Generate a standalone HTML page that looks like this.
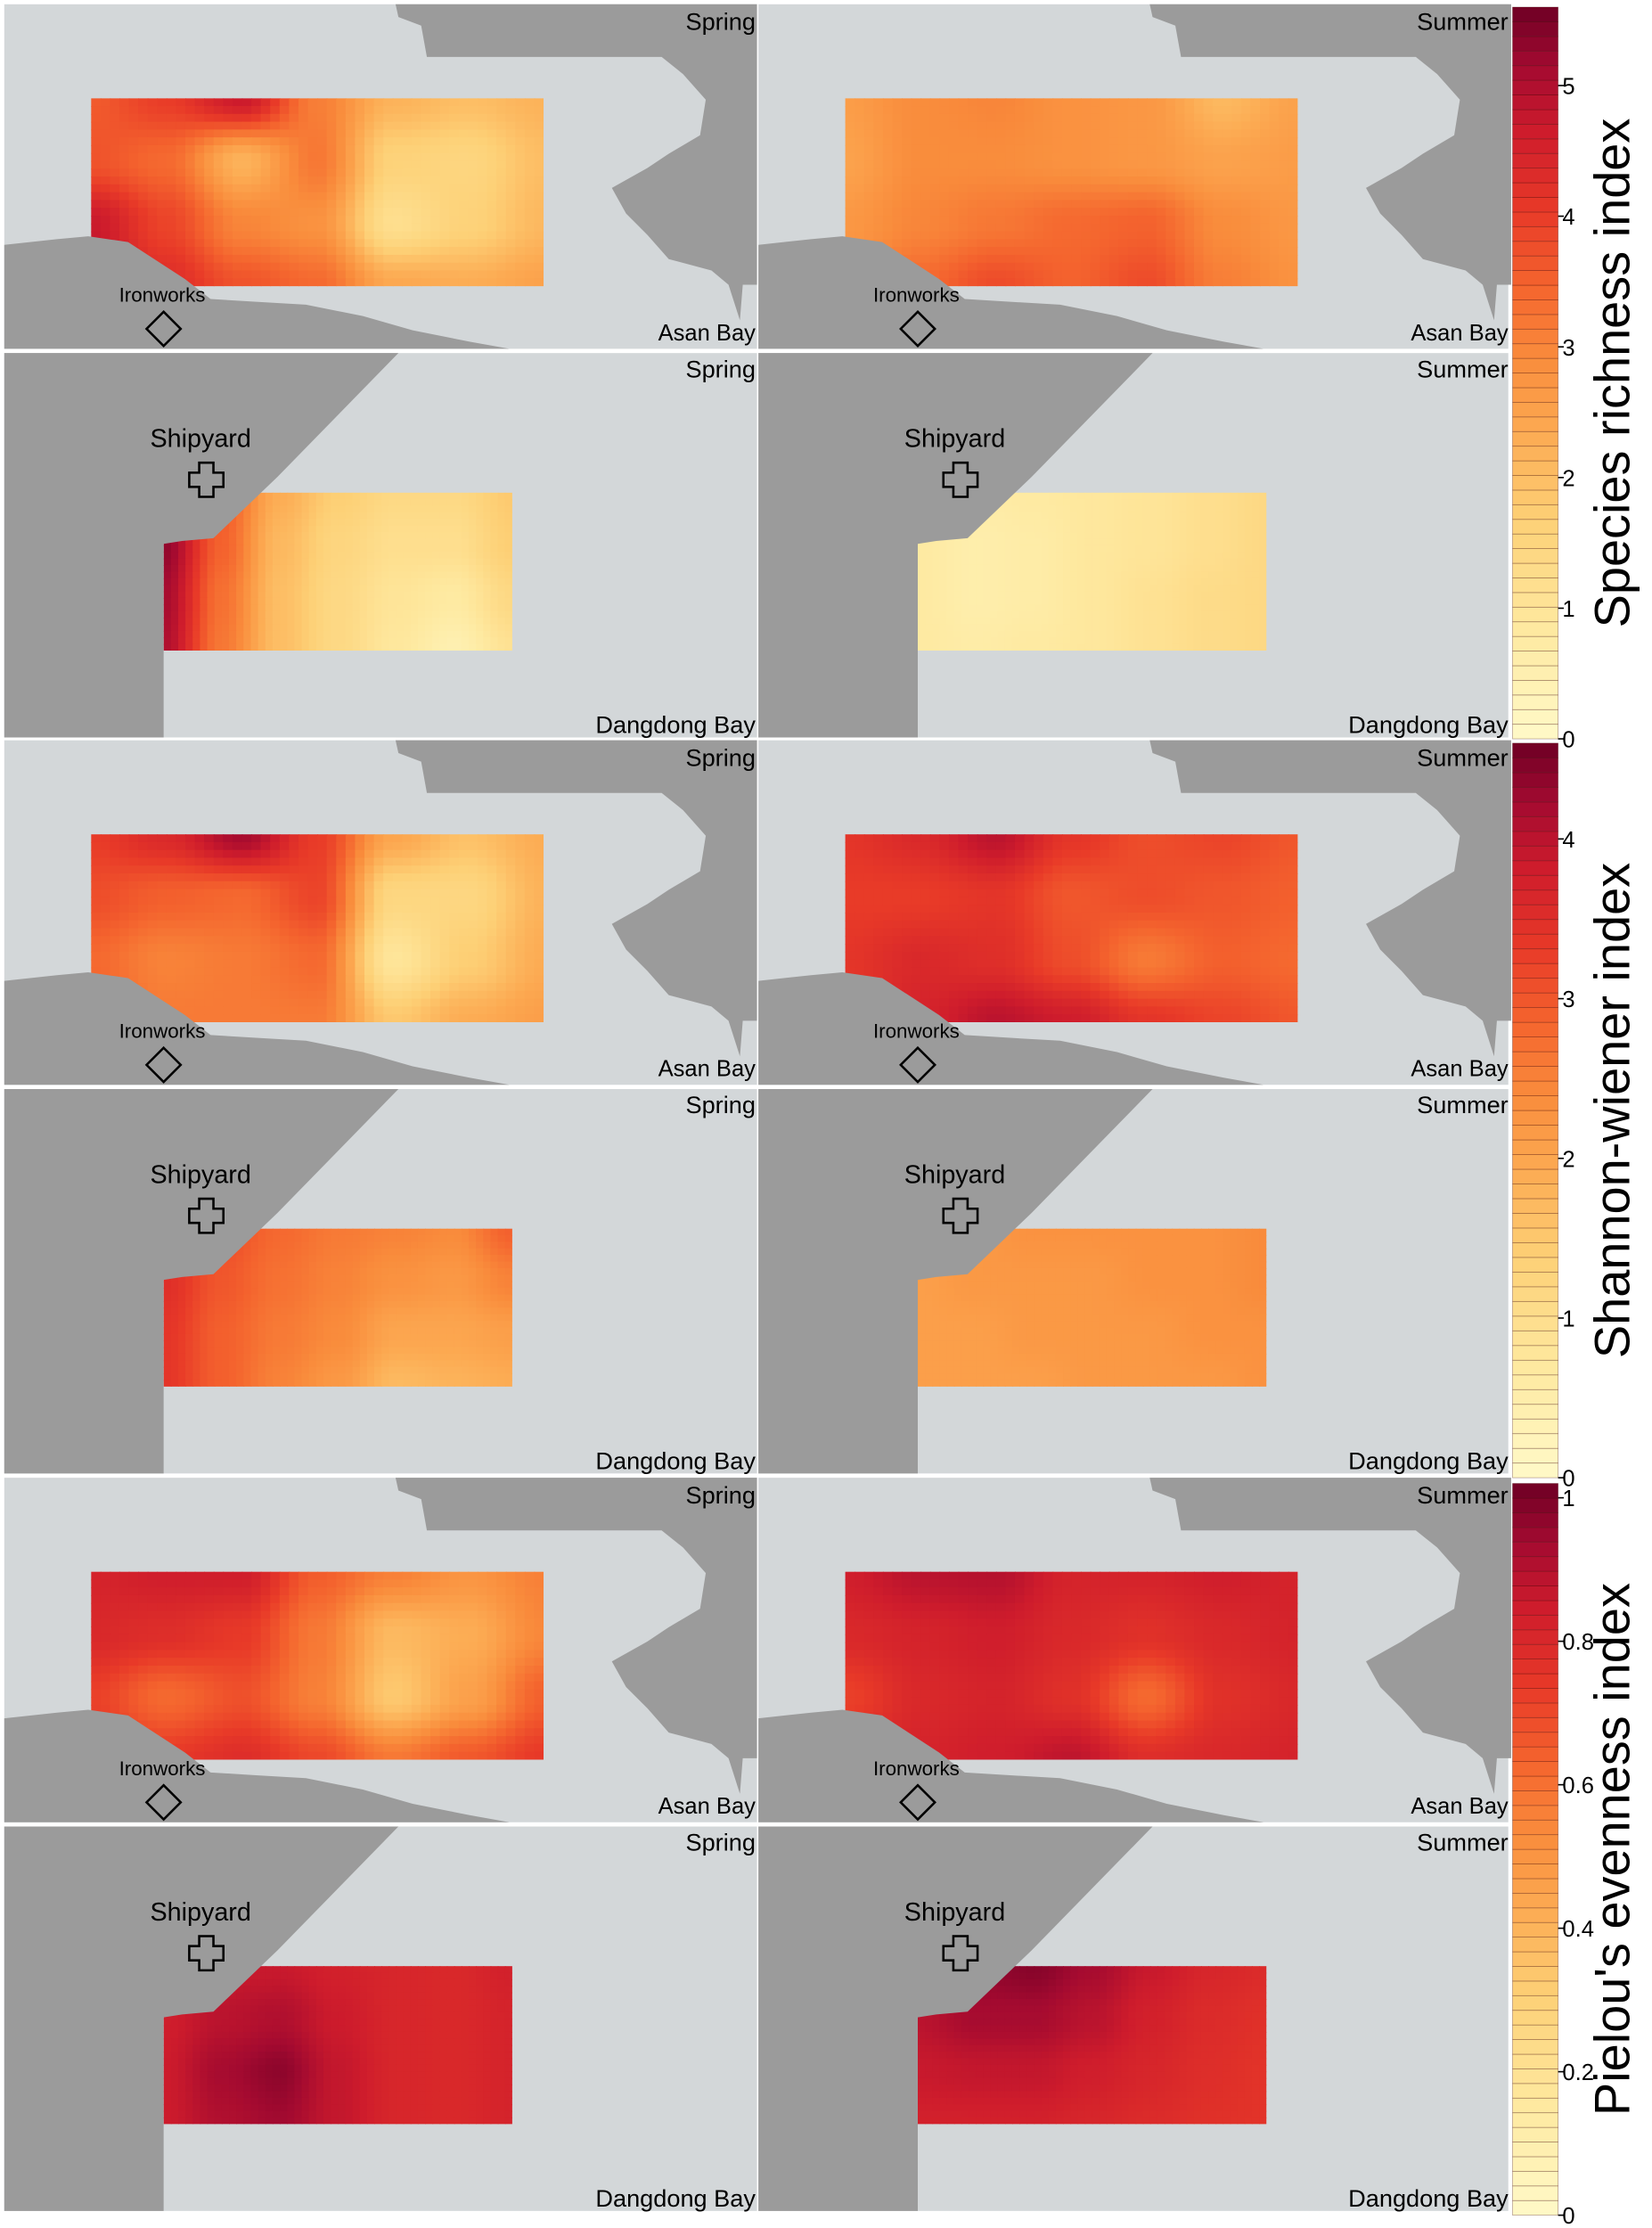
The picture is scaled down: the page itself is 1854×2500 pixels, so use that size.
<!DOCTYPE html>
<html><head><meta charset="utf-8"><style>
html,body{margin:0;padding:0;background:#fff;}
svg{display:block;font-family:"Liberation Sans",Arial,sans-serif;}
</style></head><body>
<svg id="fig" xmlns="http://www.w3.org/2000/svg" width="1854" height="2500" viewBox="0 0 1161 1565" preserveAspectRatio="none"></svg>
<script>
// ---- data: 7x4 grids of index values per panel (rows top->bottom) ----
const richAsanSpring=[[3.6,4.0,4.7,3.1,2.2,2.0,2.2],[3.7,3.4,2.2,3.2,1.6,1.5,2.0],[4.7,3.9,3.0,2.8,1.2,1.6,2.1],[5.0,4.3,3.7,3.4,2.4,2.3,2.5]];
const richAsanSummer=[[2.6,2.9,3.0,2.8,2.7,2.1,2.5],[2.5,2.9,2.9,2.8,2.7,2.5,2.6],[2.7,3.0,3.2,3.4,3.5,2.9,2.7],[2.9,3.4,3.8,3.5,3.8,3.1,2.8]];
const richDangSpring=[[5.3,3.6,2.3,1.7,1.4,1.4,1.8],[5.3,3.5,2.1,1.5,1.2,1.2,1.7],[5.1,3.3,2.0,1.4,1.0,0.8,1.4],[5.0,3.2,2.0,1.4,0.9,0.5,1.1]];
const richDangSummer=[[0.8,0.7,0.8,0.9,1.0,1.2,1.4],[0.8,0.6,0.7,0.9,1.0,1.2,1.4],[0.8,0.6,0.7,0.9,1.1,1.3,1.4],[0.8,0.7,0.8,0.9,1.1,1.3,1.4]];
const shanAsanSpring=[[3.3,3.6,4.2,3.3,2.0,1.6,1.9],[3.1,2.9,2.8,3.2,1.2,1.2,1.8],[2.8,2.5,2.6,2.8,0.8,1.4,1.9],[2.9,2.6,2.6,2.6,1.5,1.9,2.1]];
const shanAsanSummer=[[3.4,3.6,4.0,3.4,3.1,3.2,3.0],[3.3,3.3,3.4,3.0,3.1,3.0,2.9],[3.4,3.6,3.5,3.1,2.6,2.9,2.8],[3.3,3.7,4.0,3.8,3.4,3.2,3.0]];
const shanDangSpring=[[3.5,3.1,2.8,2.6,2.5,2.4,2.9],[3.5,3.0,2.7,2.5,2.3,2.2,2.5],[3.4,2.9,2.6,2.4,2.0,2.0,2.1],[3.4,2.9,2.5,2.2,1.7,1.8,1.9]];
const shanDangSummer=[[2.1,2.2,2.3,2.3,2.3,2.3,2.4],[2.1,2.2,2.2,2.2,2.3,2.3,2.4],[2.1,2.1,2.2,2.2,2.2,2.3,2.3],[2.1,2.1,2.1,2.2,2.2,2.2,2.3]];
const pielAsanSpring=[[0.82,0.84,0.84,0.65,0.56,0.50,0.56],[0.80,0.78,0.74,0.58,0.38,0.42,0.54],[0.72,0.62,0.68,0.56,0.33,0.46,0.64],[0.76,0.74,0.78,0.70,0.58,0.66,0.74]];
const pielAsanSummer=[[0.84,0.89,0.90,0.82,0.82,0.84,0.82],[0.80,0.82,0.84,0.80,0.77,0.80,0.82],[0.72,0.80,0.82,0.77,0.62,0.77,0.80],[0.80,0.82,0.84,0.88,0.78,0.80,0.82]];
const pielDangSpring=[[0.84,0.86,0.86,0.83,0.81,0.80,0.83],[0.84,0.89,0.91,0.85,0.81,0.80,0.82],[0.85,0.93,0.97,0.87,0.81,0.80,0.82],[0.85,0.91,0.94,0.87,0.81,0.80,0.82]];
const pielDangSummer=[[0.92,0.96,0.98,0.93,0.86,0.81,0.79],[0.89,0.93,0.93,0.89,0.83,0.79,0.77],[0.86,0.87,0.87,0.84,0.81,0.78,0.76],[0.83,0.83,0.83,0.81,0.79,0.77,0.76]];
const indexTitles=["Species richness index","Shannon-wiener index","Pielou's evenness index"];
const indexMax=[5.6,4.6,1.02];
const richTicks=[0,1,2,3,4,5];
const shanTicks=[0,1,2,3,4];
const pielTicks=[0,0.2,0.4,0.6,0.8,1];

const NS="http://www.w3.org/2000/svg";
const svg=document.getElementById('fig');
function mk(tag,attrs,parent){const e=document.createElementNS(NS,tag);for(const k in attrs)e.setAttribute(k,attrs[k]);(parent||svg).appendChild(e);return e;}
const stops=[[0,[255,249,200]],[0.15,[254,233,160]],[0.3,[253,208,118]],[0.42,[252,170,82]],[0.52,[249,140,60]],[0.62,[244,100,46]],[0.72,[232,58,40]],[0.83,[206,28,44]],[0.92,[163,10,48]],[1,[110,0,37]]];
function color(t){t=Math.max(0,Math.min(1,t));for(let i=1;i<stops.length;i++){if(t<=stops[i][0]){const a=stops[i-1],b=stops[i];const f=(t-a[0])/(b[0]-a[0]);const c=a[1].map((v,j)=>Math.round(v+(b[1][j]-v)*f));return `rgb(${c})`;}}return 'rgb(110,0,37)';}

const groupY=[0,517,1035];
const colX=[0,530];
const grids=[[richAsanSpring,richAsanSummer,richDangSpring,richDangSummer],[shanAsanSpring,shanAsanSummer,shanDangSpring,shanDangSummer],[pielAsanSpring,pielAsanSummer,pielDangSpring,pielDangSummer]];
const tickSets=[richTicks,shanTicks,pielTicks];
const asanRect={x:64,y:69,w:318,h:132};
const dangRect={x:115,y:346,w:245,h:111};
let clipId=0;
function heat(g,grid,r,vmax,ox,oy){
  const id='c'+(clipId++);
  const cp=mk('clipPath',{id},g);mk('rect',{x:r.x+ox,y:r.y+oy,width:r.w,height:r.h},cp);
  const hg=mk('g',{'clip-path':`url(#${id})`},g);
  const nc=grid[0].length,nr=grid.length,sub=8;
  const W=(nc-1)*sub,H=(nr-1)*sub;
  for(let j=0;j<H;j++)for(let i=0;i<W;i++){
    const u=(i+0.5)/sub,v=(j+0.5)/sub;
    const i0=Math.min(nc-2,Math.floor(u)),j0=Math.min(nr-2,Math.floor(v));
    let fu=u-i0,fv=v-j0;fu=fu*fu*(3-2*fu);fv=fv*fv*(3-2*fv);
    const val=grid[j0][i0]*(1-fu)*(1-fv)+grid[j0][i0+1]*fu*(1-fv)+grid[j0+1][i0]*(1-fu)*fv+grid[j0+1][i0+1]*fu*fv;
    const c=mk('rect',{x:(r.x+ox+i*r.w/W).toFixed(2),y:(r.y+oy+j*r.h/H).toFixed(2),width:(r.w/W+0.6).toFixed(2),height:(r.h/H+0.6).toFixed(2),fill:color(val/vmax)},hg);
    
    
  }
}
function pts(arr,ox,oy){return arr.map(p=>(p[0]+ox)+','+(p[1]+oy)).join(' ');}
const asanLandR=[[278,3],[532,3],[532,200],[522,200],[520,225],[512,200],[500,190],[470,182],[455,165],[440,150],[430,132],[455,118],[470,108],[492,95],[496,70],[480,52],[465,40],[300,40],[296,18],[280,12]];
const asanLandL=[[3,172],[40,168],[62,166],[90,170],[130,196],[148,210],[180,212],[215,214],[255,222],[290,232],[330,240],[358,245],[3,245]];
const dangLand=[[3,248],[280,248],[195,335],[150,378],[128,380],[115,382],[115,518],[3,518]];
const seasons=['Spring','Summer'];
for(let gi=0;gi<3;gi++){
  const oy=groupY[gi];
  const G=mk('g',{});
  for(let ci=0;ci<2;ci++){
    const ox=colX[ci];
    const ex=ci==0?531:1060;
    const pa=mk('g',{},G);
    mk('rect',{x:3+ox,y:3+oy,width:ci==0?529:527,height:242,fill:'#d3d7d9'},pa);
    heat(pa,grids[gi][ci],asanRect,indexMax[gi],ox,oy);
    mk('polygon',{points:pts(asanLandR,ox,oy),fill:'#9b9b9b'},pa);
    mk('polygon',{points:pts(asanLandL,ox,oy),fill:'#9b9b9b'},pa);
    mk('text',{x:ex,y:21+oy,'text-anchor':'end','font-size':17},pa).textContent=seasons[ci];
    mk('text',{x:ex,y:239+oy,'text-anchor':'end','font-size':16},pa).textContent='Asan Bay';
    mk('text',{x:114+ox,y:212+oy,'text-anchor':'middle','font-size':14},pa).textContent='Ironworks';
    const dm=mk('polygon',{points:pts([[115,219],[127,231],[115,243],[103,231]],ox,oy),fill:'none',stroke:'#000','stroke-width':1.6},pa);
    
    const pd=mk('g',{},G);
    mk('rect',{x:3+ox,y:248+oy,width:ci==0?529:527,height:270,fill:'#d3d7d9'},pd);
    heat(pd,grids[gi][ci+2],dangRect,indexMax[gi],ox,oy);
    mk('polygon',{points:pts(dangLand,ox,oy),fill:'#9b9b9b'},pd);
    mk('text',{x:ex,y:265+oy,'text-anchor':'end','font-size':17},pd).textContent=seasons[ci];
    mk('text',{x:ex,y:515+oy,'text-anchor':'end','font-size':17},pd).textContent='Dangdong Bay';
    mk('text',{x:141+ox,y:314+oy,'text-anchor':'middle','font-size':18},pd).textContent='Shipyard';
    const cr=mk('path',{d:`M${140+ox},${325+oy}h10v7h7v10h-7v7h-10v-7h-7v-10h7z`,fill:'none',stroke:'#000','stroke-width':1.6},pd);
    
  }
  const cb=mk('g',{},G);
  const top=5+oy+(gi==2?2:0), bot=519+oy+(gi==0?0:2);
  const vmax=indexMax[gi], N=50;
  const ypos=v=>bot-(v/vmax)*(bot-top);
  for(let k=0;k<N;k++){
    const v0=k*vmax/N,v1=(k+1)*vmax/N;
    mk('rect',{x:1063,y:ypos(v1),width:32,height:ypos(v0)-ypos(v1),fill:color((v0+v1)/2/vmax),stroke:'rgba(60,0,0,0.35)','stroke-width':0.5},cb);
  }
  tickSets[gi].forEach(t=>{
    const y=ypos(t);
    mk('line',{x1:1095,x2:1099,y1:y,y2:y,stroke:'#000','stroke-width':1},cb);
    mk('text',{x:1098,y:y+6,'font-size':16},cb).textContent=String(t);
  });
  const ty=(top+bot)/2;
  const tt=mk('text',{x:1145,y:ty,'font-size':35,'text-anchor':'middle',transform:`rotate(-90 1145 ${ty})`},cb);
  tt.textContent=indexTitles[gi];
  
}
</script>
</body></html>
